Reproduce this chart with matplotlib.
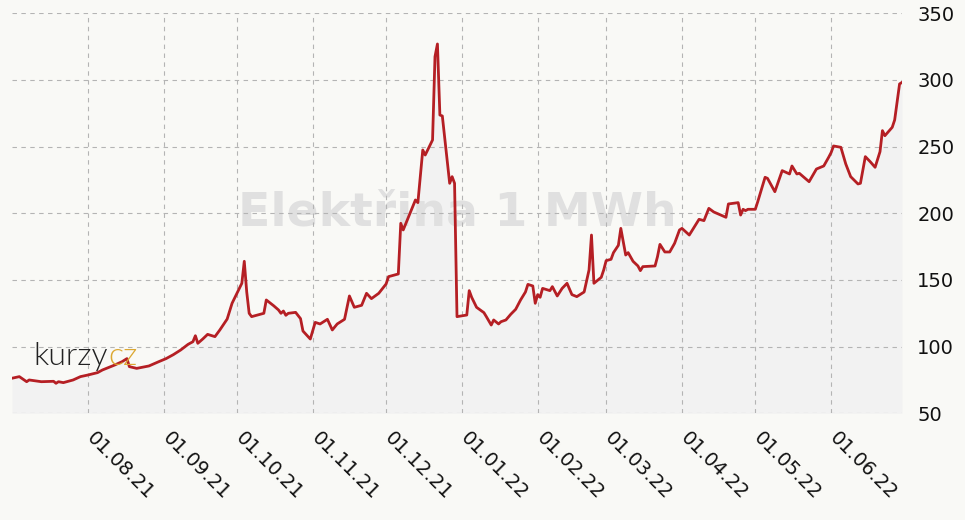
import matplotlib
matplotlib.use('Agg')
import matplotlib.pyplot as plt
import matplotlib.transforms as mtransforms
import pandas as pd

# Elektřina 1 MWh
dates = [
    '2021-07-01', '2021-07-04', '2021-07-07', '2021-07-08', '2021-07-13', '2021-07-18',
    '2021-07-19', '2021-07-20', '2021-07-22', '2021-07-26', '2021-07-29', '2021-08-01',
    '2021-08-05', '2021-08-07', '2021-08-12', '2021-08-15', '2021-08-17', '2021-08-18',
    '2021-08-21', '2021-08-26', '2021-08-30', '2021-09-02', '2021-09-05', '2021-09-08',
    '2021-09-11', '2021-09-13', '2021-09-14', '2021-09-15', '2021-09-17', '2021-09-19',
    '2021-09-22', '2021-09-24', '2021-09-27', '2021-09-29', '2021-10-03', '2021-10-04',
    '2021-10-05', '2021-10-06', '2021-10-07', '2021-10-12', '2021-10-13', '2021-10-16',
    '2021-10-18', '2021-10-19', '2021-10-20', '2021-10-21', '2021-10-22', '2021-10-25',
    '2021-10-27', '2021-10-28', '2021-10-31', '2021-11-02', '2021-11-04', '2021-11-07',
    '2021-11-09', '2021-11-11', '2021-11-14', '2021-11-16', '2021-11-18', '2021-11-21',
    '2021-11-23', '2021-11-25', '2021-11-28', '2021-12-01', '2021-12-02', '2021-12-06',
    '2021-12-07', '2021-12-08', '2021-12-13', '2021-12-14', '2021-12-16', '2021-12-17',
    '2021-12-20', '2021-12-21', '2021-12-22', '2021-12-23', '2021-12-24', '2021-12-27',
    '2021-12-28', '2021-12-29', '2021-12-30', '2022-01-03', '2022-01-04', '2022-01-05',
    '2022-01-07', '2022-01-10', '2022-01-11', '2022-01-13', '2022-01-14', '2022-01-16',
    '2022-01-17', '2022-01-19', '2022-01-21', '2022-01-23', '2022-01-25', '2022-01-27',
    '2022-01-28', '2022-01-30', '2022-01-31', '2022-02-01', '2022-02-02', '2022-02-03',
    '2022-02-06', '2022-02-07', '2022-02-09', '2022-02-11', '2022-02-13', '2022-02-15',
    '2022-02-17', '2022-02-20', '2022-02-22', '2022-02-23', '2022-02-24', '2022-02-27',
    '2022-02-28', '2022-03-01', '2022-03-03', '2022-03-04', '2022-03-06', '2022-03-07',
    '2022-03-09', '2022-03-10', '2022-03-12', '2022-03-14', '2022-03-15', '2022-03-16',
    '2022-03-21', '2022-03-22', '2022-03-23', '2022-03-25', '2022-03-27', '2022-03-29',
    '2022-03-31', '2022-04-01', '2022-04-04', '2022-04-08', '2022-04-10', '2022-04-12',
    '2022-04-14', '2022-04-19', '2022-04-20', '2022-04-24', '2022-04-25', '2022-04-26',
    '2022-04-27', '2022-04-28', '2022-05-01', '2022-05-02', '2022-05-05', '2022-05-06',
    '2022-05-09', '2022-05-12', '2022-05-15', '2022-05-16', '2022-05-18', '2022-05-19',
    '2022-05-23', '2022-05-26', '2022-05-29', '2022-05-31', '2022-06-01', '2022-06-02',
    '2022-06-05', '2022-06-07', '2022-06-09', '2022-06-12', '2022-06-13', '2022-06-15',
    '2022-06-17', '2022-06-19', '2022-06-21', '2022-06-22', '2022-06-23', '2022-06-26',
    '2022-06-27', '2022-06-29', '2022-06-30',
]
prices = [
    76.3, 77.5, 73.7, 75.0, 73.7, 74.0,
    72.5, 73.7, 73.0, 75.0, 77.5, 78.7,
    80.5, 82.5, 86.2, 88.7, 91.0, 85.0,
    83.7, 85.5, 88.7, 91.0, 94.0, 97.5,
    101.7, 103.7, 108.2, 102.5, 105.7, 109.2,
    107.5, 112.5, 120.7, 132.5, 147.5, 164.0,
    141.0, 125.0, 122.5, 125.0, 135.0, 130.7,
    127.5, 125.0, 126.7, 123.5, 125.0, 125.7,
    121.0, 111.7, 105.7, 118.2, 117.0, 120.5,
    112.5, 117.0, 120.5, 138.0, 129.5, 131.0,
    140.0, 136.0, 140.0, 147.0, 152.5, 154.5,
    192.5, 187.5, 210.0, 208.0, 247.5, 243.7,
    255.0, 317.5, 327.0, 273.7, 273.0, 222.5,
    227.5, 222.5, 122.5, 123.7, 142.0, 137.0,
    129.5, 125.5, 122.5, 116.2, 120.0, 117.0,
    118.7, 120.0, 124.3, 128.0, 135.0, 141.0,
    146.7, 145.5, 132.5, 139.0, 137.0, 143.7,
    142.0, 145.0, 138.0, 143.7, 147.5, 139.0,
    137.5, 141.0, 157.5, 183.7, 147.5, 152.0,
    157.5, 164.5, 165.5, 170.5, 176.0, 188.7,
    168.7, 170.5, 164.0, 160.5, 157.0, 160.0,
    160.5, 167.5, 176.7, 171.0, 171.0, 177.5,
    187.5, 188.7, 183.7, 195.5, 194.5, 203.7,
    201.0, 197.0, 207.0, 208.0, 198.7, 203.0,
    202.0, 203.0, 203.0, 208.7, 227.0, 226.2,
    216.2, 232.0, 229.5, 235.5, 229.5, 230.0,
    223.7, 233.2, 235.5, 242.0, 245.5, 250.5,
    249.5, 237.0, 227.5, 222.0, 222.5, 242.5,
    238.7, 234.5, 246.2, 262.0, 258.2, 264.5,
    270.0, 297.0, 298.2,
]
month_ticks = ['2021-08-01', '2021-09-01', '2021-10-01', '2021-11-01', '2021-12-01',
               '2022-01-01', '2022-02-01', '2022-03-01', '2022-04-01', '2022-05-01',
               '2022-06-01']
month_labels = ['01.08.21', '01.09.21', '01.10.21', '01.11.21', '01.12.21', '01.01.22',
                '01.02.22', '01.03.22', '01.04.22', '01.05.22', '01.06.22']
y_ticks = [50, 100, 150, 200, 250, 300, 350]

bg = '#f9f9f6'
d = pd.to_datetime(dates)

fig = plt.figure(figsize=(9.65, 5.2), dpi=100, facecolor=bg)
ax = fig.add_axes([12 / 965, 1 - 413.3 / 520, 890 / 965, 400 / 520])
ax.set_facecolor(bg)

ax.fill_between(d, prices, 50, color='#f2f2f2', lw=0, zorder=1)
ax.text(0.5, 0.5, 'Elektřina 1 MWh', transform=ax.transAxes, ha='center', va='center',
        fontsize=34, fontweight='bold', color='#e0e0e0', zorder=2)
ax.plot(d, prices, color='#b51f24', lw=2.0, zorder=4, solid_joinstyle='round')

ax.set_axisbelow(False)
ax.grid(True, color='#b4b4b4', linestyle=(0, (4, 4)), linewidth=0.8)

ax.set_xlim(pd.Timestamp('2021-07-01'), pd.Timestamp('2022-06-30'))
ax.set_ylim(50, 350)
ax.set_xticks(pd.to_datetime(month_ticks))
ax.set_xticklabels(month_labels)
ax.set_yticks(y_ticks)
ax.yaxis.tick_right()
ax.tick_params(axis='y', length=0, pad=11, labelsize=14, labelcolor='#111111')
ax.tick_params(axis='x', length=0, pad=11, labelsize=14, labelcolor='#111111')
shift = mtransforms.ScaledTranslation(6 / 72, 0, fig.dpi_scale_trans)
for lab in ax.get_xticklabels():
    lab.set_rotation(-45)
    lab.set_ha('left')
    lab.set_va('top')
    lab.set_rotation_mode('anchor')
    lab.set_transform(lab.get_transform() + shift)
for s in ax.spines.values():
    s.set_visible(False)

# kurzy.cz logo, thin lettering; "cz" placed right after "kurzy"
logo = fig.text(33 / 965, 1 - 365 / 520, 'kurzy', fontsize=23, family='Lato',
                fontweight=300, color='#222222', va='baseline', zorder=5)
fig.canvas.draw()
bb = logo.get_window_extent()
fig.text((bb.x1 + 1) / fig.bbox.width, 1 - 365 / 520, 'cz', fontsize=23, family='Lato',
         fontweight=300, color='#dca832', va='baseline', zorder=5)

fig.savefig('out.png', dpi=100, facecolor=bg)
